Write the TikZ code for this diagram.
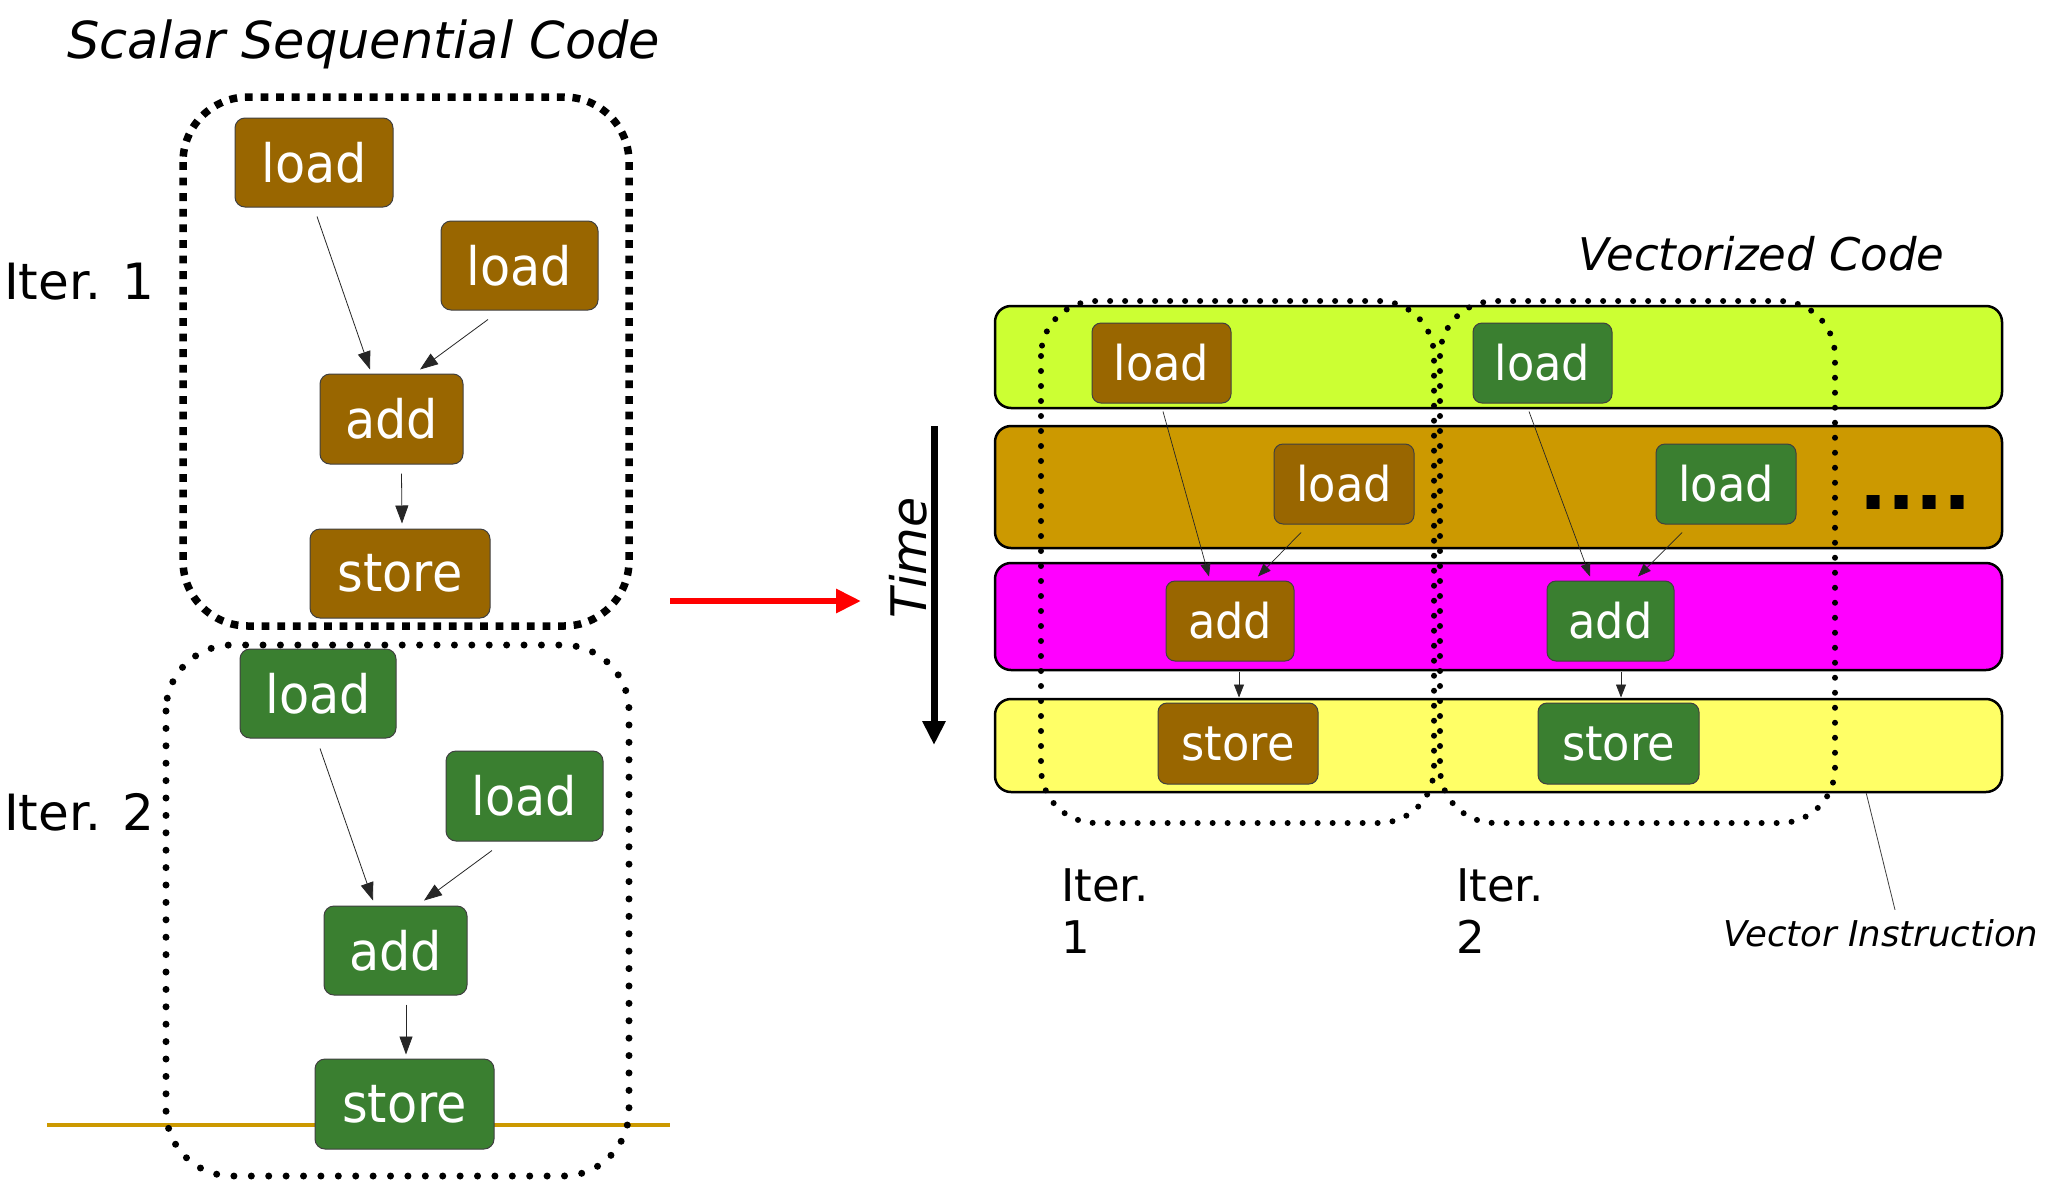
\documentclass[tikz,border=0pt]{standalone}
\usepackage{fontspec}
\setmainfont{DejaVu Sans}
\newfontfamily\boxfont[FakeStretch=0.93]{DejaVu Sans}
\usetikzlibrary{arrows.meta,calc}

\definecolor{opbrown}{HTML}{996600}
\definecolor{opgreen}{HTML}{3A7F30}
\definecolor{limebar}{HTML}{CCFF33}
\definecolor{ochrebar}{HTML}{CC9900}
\definecolor{magbar}{HTML}{FF00FF}
\definecolor{yelbar}{HTML}{FFFF66}

\begin{document}
\begin{tikzpicture}[x=1pt,y=-1pt,
  op/.style={rounded corners=10pt, draw=black!75, line width=1pt, text=white,
    inner sep=0pt, font=\boxfont\fontsize{53}{53}\selectfont},
  opsmall/.style={op, rounded corners=9pt, font=\boxfont\fontsize{48}{48}\selectfont},
  isbrown/.style={fill=opbrown},
  isgreen/.style={fill=opgreen},
  flowL/.style={-{Triangle[width=13pt,length=18pt]}, line width=0.8pt, black!85},
  flowR/.style={-{Triangle[width=10pt,length=13pt]}, line width=0.7pt, black!85},
  sqdots/.style={line width=7.5pt, dash pattern=on 7.8pt off 7.8pt},
  rddots/.style={line width=7pt, line cap=round, dash pattern=on 0pt off 17.4pt},
  smdots/.style={line width=6pt, line cap=round, dash pattern=on 0pt off 15pt},
  bar/.style={draw=black, line width=2.5pt, rounded corners=16pt,
    minimum width=1007pt, inner sep=0pt},
  lbl/.style={anchor=base west, inner sep=0pt, text=black}
]
\useasboundingbox (0,0) rectangle (2061,1202);
\fill[white] (0,0) rectangle (2061,1202);

% ---------- scalar sequential code ----------
\node[lbl, font=\itshape\fontsize{51}{51}\selectfont] (title1) at (67,58) {Scalar Sequential Code};
\node[lbl, font=\fontsize{50}{50}\selectfont] (it1) at (4,299) {Iter. 1};
\node[lbl, font=\fontsize{50}{50}\selectfont] (it2) at (4,830) {Iter. 2};

\draw[ochrebar, line width=4pt] (47,1125) -- (670,1125);

\draw[sqdots, rounded corners=65pt] (183,97) rectangle (629,626);
\draw[rddots, rounded corners=66pt] (166,645) rectangle (629,1176);

\node[op, isbrown, minimum width=158pt, minimum height=89pt] (l1) at (314,162.5) {load};
\node[op, isbrown, minimum width=157pt, minimum height=89pt] (l2) at (519.5,265.5) {load};
\node[op, isbrown, minimum width=143pt, minimum height=90pt] (a1) at (391.5,419) {add};
\node[op, isbrown, minimum width=180pt, minimum height=89pt] (s1) at (400,573.5) {store};

\node[op, isgreen, minimum width=156pt, minimum height=89pt] (l3) at (318,693.5) {load};
\node[op, isgreen, minimum width=157pt, minimum height=90pt] (l4) at (524.5,796) {load};
\node[op, isgreen, minimum width=143pt, minimum height=89pt] (a2) at (395.5,950.5) {add};
\node[op, isgreen, minimum width=179pt, minimum height=90pt] (s2) at (404.5,1104) {store};

\draw[flowL] ($(l1.south)+(3,9)$) -- ($(a1.north)+(-21.5,-4)$);
\draw[flowL] ($(l2.south)+(-31.5,9)$) -- ($(a1.north)+(28.5,-4)$);
\draw[flowL] ($(a1.south)+(10,9)$) -- ($(s1.north)+(2,-5)$);
\draw[flowL] ($(l3.south)+(2,10)$) -- ($(a2.north)+(-22.5,-5)$);
\draw[flowL] ($(l4.south)+(-32.5,9)$) -- ($(a2.north)+(28.5,-5)$);
\draw[flowL] ($(a2.south)+(10.5,9)$) -- ($(s2.north)+(1.5,-4)$);

% ---------- transformation arrow and time axis ----------
\coordinate (tr0) at (670,601);
\coordinate (tr1) at (861,601);
\draw[red, line width=6pt, -{Triangle[width=23pt,length=25pt]}] (tr0) -- (tr1);

\coordinate (tm0) at (934,426);
\coordinate (tm1) at (934,745);
\draw[black, line width=7pt, -{Triangle[width=22pt,length=24pt]}] (tm0) -- (tm1);
\node[rotate=90, inner sep=0pt, font=\itshape\fontsize{49}{49}\selectfont] (time) at (908,558) {Time};

% ---------- vectorized code ----------
\node[lbl, font=\itshape\fontsize{45}{45}\selectfont] (title2) at (1578,270) {Vectorized Code};

\node[bar, fill=limebar, minimum height=102pt] (bar1) at (1498.5,357) {};
\node[bar, fill=ochrebar, minimum height=122pt] (bar2) at (1498.5,487) {};
\node[bar, fill=magbar, minimum height=107pt] (bar3) at (1498.5,616.5) {};
\node[bar, fill=yelbar, minimum height=93pt] (bar4) at (1498.5,745.5) {};

\draw[smdots, rounded corners=55pt] (1041,301) rectangle (1434,823);
\draw[smdots, rounded corners=55pt] (1440,301) rectangle (1835,823);

\node[opsmall, isbrown, minimum width=139pt, minimum height=80pt] (vl1) at (1161.5,363) {load};
\node[opsmall, isgreen, minimum width=139pt, minimum height=80pt] (vl2) at (1542.5,363) {load};
\node[opsmall, isbrown, minimum width=140pt, minimum height=80pt] (vl3) at (1344,484) {load};
\node[opsmall, isgreen, minimum width=140pt, minimum height=80pt] (vl4) at (1726,484) {load};
\node[opsmall, isbrown, minimum width=128pt, minimum height=80pt] (va1) at (1230,621) {add};
\node[opsmall, isgreen, minimum width=127pt, minimum height=80pt] (va2) at (1610.5,621) {add};
\node[opsmall, isbrown, minimum width=160pt, minimum height=81pt] (vs1) at (1238,743.5) {store};
\node[opsmall, isgreen, minimum width=161pt, minimum height=81pt] (vs2) at (1618.5,743.5) {store};

\draw[flowR] ($(vl1.south)+(1.5,8)$) -- ($(va1.north)+(-21,-4)$);
\draw[flowR] ($(vl3.south)+(-43,8)$) -- ($(va1.north)+(28,-4)$);
\draw[flowR] ($(va1.south)+(9,10)$) -- ($(vs1.north)+(1,-5)$);
\draw[flowR] ($(vl2.south)+(-13.5,8)$) -- ($(va2.north)+(-20.5,-4)$);
\draw[flowR] ($(vl4.south)+(-44,8)$) -- ($(va2.north)+(27.5,-4)$);
\draw[flowR] ($(va2.south)+(10.5,10)$) -- ($(vs2.north)+(2.5,-5)$);

\node[lbl, font=\bfseries\fontsize{74}{74}\selectfont] (more) at (1859,509) {....};

% two-line labels: the base anchor sits on the last line
\node[lbl, align=left, font=\fontsize{45}{52}\selectfont] (vit1) at (1061,953) {Iter.\\1};
\node[lbl, align=left, font=\fontsize{45}{52}\selectfont] (vit2) at (1456,953) {Iter.\\2};

\node[lbl, font=\itshape\fontsize{35.5}{35.5}\selectfont] (vi) at (1723,946) {Vector Instruction};
\draw[black!75, line width=0.8pt] ($(bar4.south east)+(-137,0)$) -- ($(vi.north west)+(172,-9)$);

\end{tikzpicture}
\end{document}
